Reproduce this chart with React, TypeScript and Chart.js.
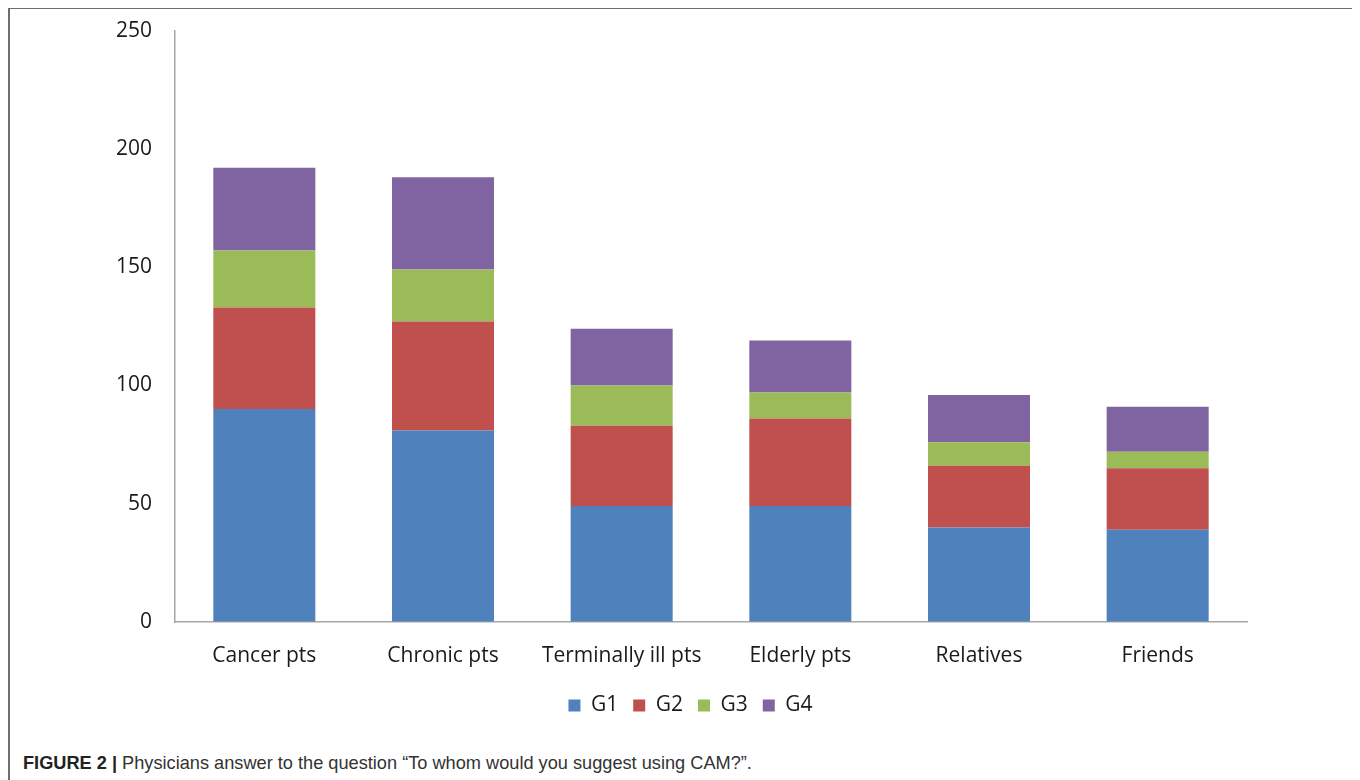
import React, { useEffect, useRef } from "react";
import { Chart, registerables } from "chart.js";

Chart.register(...registerables);

const categories = ["Cancer pts", "Chronic pts", "Terminally ill pts", "Elderly pts", "Relatives", "Friends"];
const g1 = [90, 81, 49, 49, 40, 39];
const g2 = [43, 46, 34, 37, 26, 26];
const g3 = [24, 22, 17, 11, 10, 7];
const g4 = [35, 39, 24, 22, 20, 19];
const seriesNames = ["G1", "G2", "G3", "G4"];
const seriesColors = ["#4F81BD", "#C0504D", "#9BBB59", "#8064A2"];
const yMin = 0;
const yMax = 250;
const yStep = 50;

export default function App() {
  const canvasRef = useRef<HTMLCanvasElement>(null);

  useEffect(() => {
    if (!canvasRef.current) return;
    const values = [g1, g2, g3, g4];
    const chart = new Chart(canvasRef.current, {
      type: "bar",
      data: {
        labels: categories,
        datasets: values.map((v, i) => ({
          label: seriesNames[i],
          data: v,
          backgroundColor: seriesColors[i],
          borderWidth: 0,
          categoryPercentage: 1,
          barPercentage: 0.571,
        })),
      },
      options: {
        animation: false,
        responsive: false,
        maintainAspectRatio: false,
        layout: { padding: { left: 16, right: 0, top: 8, bottom: 0 } },
        plugins: {
          legend: {
            position: "bottom",
            labels: {
              boxWidth: 12,
              boxHeight: 12,
              padding: 15,
              color: "#1a1a1a",
              font: { family: "'Open Sans'", size: 21 },
            },
          },
          tooltip: { enabled: false },
          title: { display: false },
        },
        scales: {
          x: {
            stacked: true,
            grid: { display: false, drawTicks: false },
            border: { display: true, color: "#a6a6a6", width: 1.5 },
            ticks: {
              padding: 21,
              color: "#1a1a1a",
              font: { family: "'Open Sans'", size: 21 },
              maxRotation: 0,
              autoSkip: false,
            },
            afterFit: (s: any) => {
              s.height = 58;
            },
          },
          y: {
            stacked: true,
            min: yMin,
            max: yMax,
            grid: {
              display: true,
              drawOnChartArea: false,
              drawTicks: true,
              tickLength: 14,
              color: "rgba(0,0,0,0)",
            },
            border: { display: true, color: "#a6a6a6", width: 1.5 },
            ticks: {
              stepSize: yStep,
              padding: 9,
              color: "#1a1a1a",
              font: { family: "'Open Sans'", size: 21 },
            },
            afterFit: (s: any) => {
              s.width = 149;
            },
          },
          yRight: {
            type: "linear",
            position: "right",
            display: true,
            grid: { display: false, drawTicks: false },
            border: { display: false },
            ticks: { display: false },
            afterFit: (s: any) => {
              s.width = 108;
            },
          },
        },
      },
    });
    return () => chart.destroy();
  }, []);

  return (
    <div
      style={{
        position: "relative",
        marginTop: -1,
        width: 1349,
        height: 790,
        boxSizing: "border-box",
        borderTop: "2px solid #6e6e6e",
        borderLeft: "2px solid #6e6e6e",
        borderRight: "2px solid #6e6e6e",
        background: "#fff",
      }}
    >
      <canvas
        ref={canvasRef}
        width={1345}
        height={717}
        style={{ position: "absolute", left: 0, top: 0, width: 1345, height: 717 }}
      />
      <div
        style={{
          position: "absolute",
          left: 13,
          top: 742,
          fontFamily: "'Liberation Sans', Arial, sans-serif",
          fontSize: 18.2,
          lineHeight: "24px",
          color: "#333",
          whiteSpace: "nowrap",
        }}
      >
        <span style={{ fontWeight: "bold", color: "#222" }}>FIGURE 2</span>
        <span style={{ fontWeight: "bold", color: "#222" }}> | </span>
        Physicians answer to the question “To whom would you suggest using CAM?”.
      </div>
    </div>
  );
}
